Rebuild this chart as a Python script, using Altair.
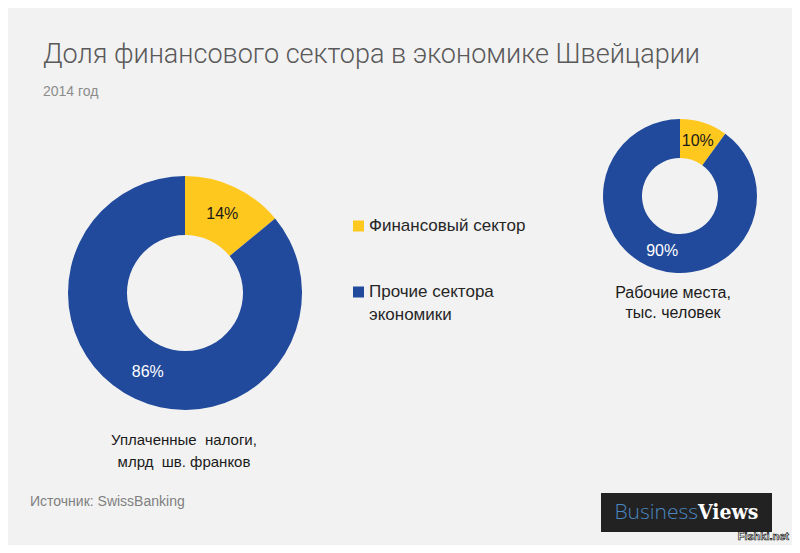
import altair as alt
import pandas as pd

# ---- data ----
categories = ["Финансовый сектор", "Прочие сектора экономики"]
taxes_share = [14, 86]          # Уплаченные налоги, %
jobs_share = [10, 90]           # Рабочие места, %
colors = ["#FFC81E", "#214A9C"]
label_colors = ["#1a1a1a", "#ffffff"]

title_text = "Доля финансового сектора в экономике Швейцарии"
subtitle_text = "2014 год"
legend_lines = [["Финансовый сектор"], ["Прочие сектора", "экономики"]]
caption_big = ["Уплаченные\u00a0 налоги,", "млрд\u00a0 шв. франков"]
caption_small = ["Рабочие места,", "тыс. человек"]
source_text = "Источник: SwissBanking"
logo_a, logo_b = "Business", "Views"
watermark = "Fishki.net"

W, H = 784, 537
BG = "#F2F2F2"

color_scale = alt.Scale(domain=categories, range=colors)


def donut(values, cx, cy, r_out, r_in, fsize):
    df = pd.DataFrame({
        "category": categories,
        "value": values,
        "order": [0, 1],
        "label": [f"{v}%" for v in values],
        "lcolor": label_colors,
    })
    base = alt.Chart(df).encode(
        theta=alt.Theta("value:Q", stack=True, scale=alt.Scale(domain=[0, 100])),
        order=alt.Order("order:Q"),
    )
    arc = base.mark_arc(radius=r_out, radius2=r_in, stroke=None).encode(
        color=alt.Color("category:N", scale=color_scale, legend=None),
        x=alt.value(cx), y=alt.value(cy),
    )
    txt = base.mark_text(radius=(r_out + r_in) / 2, font="Liberation Sans",
                         fontSize=fsize, align="center", baseline="middle").encode(
        text="label:N",
        color=alt.Color("lcolor:N", scale=None),
        x=alt.value(cx), y=alt.value(cy),
    )
    return [arc, txt]


def text(s, x, y, size, color, align="left", font="Liberation Sans", weight="normal", baseline="middle"):
    return alt.Chart(pd.DataFrame({"t": [s]})).mark_text(
        align=align, baseline=baseline, font=font, fontSize=size,
        fontWeight=weight, color=color,
    ).encode(text="t:N", x=alt.value(x), y=alt.value(y))


layers = []
layers += donut(taxes_share, 177, 285, 117, 58, 16)
layers += donut(jobs_share, 672, 188, 77, 38, 16)

# title & subtitle
layers.append(text(title_text, 35, 55, 27, "#595959", font="Roboto", weight=300, baseline="alphabetic"))
layers.append(text(subtitle_text, 35, 84, 14, "#8c8c8c"))

# legend
for i, (cat, lines) in enumerate(zip(categories, legend_lines)):
    y0 = 218 + 66 * i
    layers.append(alt.Chart(pd.DataFrame({"category": [cat]})).mark_square(size=121, opacity=1).encode(
        color=alt.Color("category:N", scale=color_scale, legend=None),
        x=alt.value(350.5), y=alt.value(y0),
    ))
    for j, line in enumerate(lines):
        layers.append(text(line, 361, y0 + 23 * j, 17, "#262626"))

# captions
for j, line in enumerate(caption_big):
    layers.append(text(line, 176, 432 + 22 * j, 15, "#1a1a1a", align="center"))
for j, line in enumerate(caption_small):
    layers.append(text(line, 665, 285 + 20 * j, 16, "#1a1a1a", align="center"))

# source
layers.append(text(source_text, 22, 494, 14, "#7f7f7f"))

# logo
layers.append(alt.Chart(pd.DataFrame({"a": [0]})).mark_rect(color="#222222").encode(
    x=alt.value(593), x2=alt.value(764), y=alt.value(485), y2=alt.value(524)))
layers.append(text(logo_a, 690, 511, 21, "#4A86C0", align="right", font="Open Sans", weight=300, baseline="alphabetic"))
layers.append(text(logo_b, 690, 511, 21, "#ffffff", align="left", font="DejaVu Serif Condensed", weight="bold", baseline="alphabetic"))

# watermark
layers.append(alt.Chart(pd.DataFrame({"t": [watermark]})).mark_text(
    align="right", baseline="middle", font="Liberation Sans", fontSize=11, fontWeight="bold",
    color="#ffffff", stroke="#000000", strokeWidth=0.6,
).encode(text="t:N", x=alt.value(781), y=alt.value(529)))

chart = alt.layer(*layers).properties(
    width=W, height=H, background=BG, padding=0,
    autosize=alt.AutoSizeParams(type="none"),
).configure_view(stroke=None)

chart.save("out.html", embed_options={"renderer": "svg", "actions": False})
